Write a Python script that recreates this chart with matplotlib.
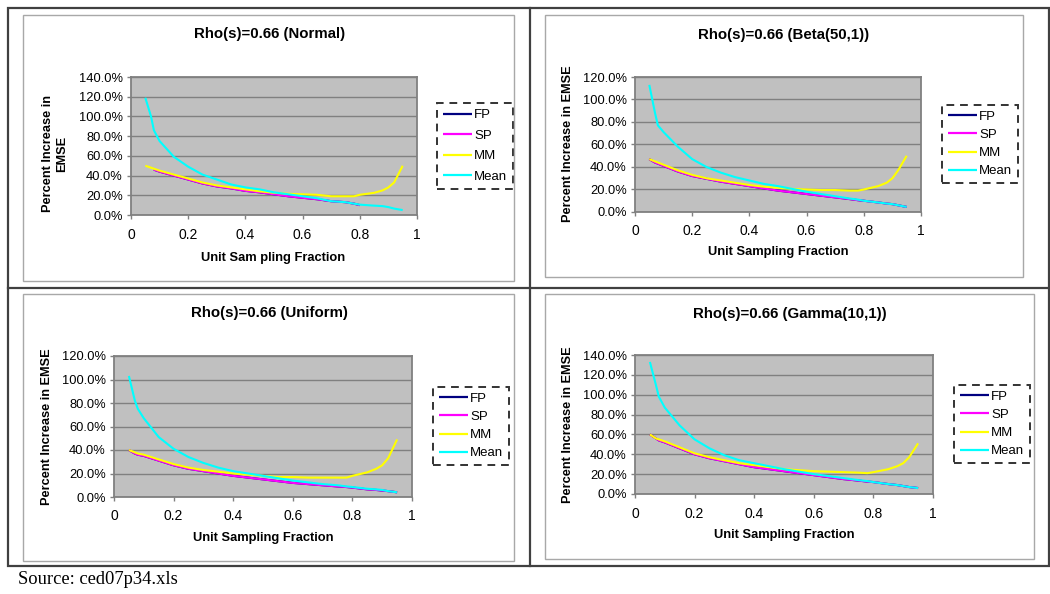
import matplotlib
matplotlib.use("Agg")
import matplotlib.pyplot as plt
from matplotlib.patches import Rectangle
from matplotlib.lines import Line2D
from matplotlib.ticker import FuncFormatter
import numpy as np

plt.rcParams['font.family'] = ['Liberation Sans', 'DejaVu Sans']

nan = np.nan

# unit sampling fraction
x = [0.05, 0.07, 0.08, 0.1, 0.15, 0.2, 0.25, 0.3, 0.35, 0.4, 0.45, 0.5,
     0.55, 0.6, 0.65, 0.7, 0.75, 0.78, 0.8, 0.85, 0.88, 0.9, 0.92, 0.95]

series_names = ['FP', 'SP', 'MM', 'Mean']
titles = ['Rho(s)=0.66 (Normal)', 'Rho(s)=0.66 (Beta(50,1))',
          'Rho(s)=0.66 (Uniform)', 'Rho(s)=0.66 (Gamma(10,1))']
xlabels = ['Unit Sam pling Fraction', 'Unit Sampling Fraction',
           'Unit Sampling Fraction', 'Unit Sampling Fraction']
ylabels = ['Percent Increase in\nEMSE', 'Percent Increase in EMSE',
           'Percent Increase in EMSE', 'Percent Increase in EMSE']
ymax = [140, 120, 120, 140]

# percent increase in EMSE, Normal
normal_fp = [nan, nan, 46, 44, 40, 36, 32, 29, 27, 24.5, 23, 21,
             19, 17.5, 16, 14, 13, 11.5, 10, nan, nan, nan, nan, nan]
normal_sp = [nan, nan, 46, 44, 40, 36, 32, 29, 27, 24.5, 23, 21,
             19, 17.5, 16, 14, 13, 11.5, 10, nan, nan, nan, nan, nan]
normal_mm = [50, 48, 47, 45, 41, 37, 33, 30, 28, 26, 24, 22.5,
             21.5, 21, 20.5, 19, 19, 19, 20.5, 22.5, 25, 28, 33, 50]
normal_mean = [119, 100, 86, 75, 59, 49, 41, 36, 31, 28, 26, 23,
               21, 19, 17, 14, 13, 11.5, 10.5, 9.5, 9, 8, 6.5, 5]

# Beta(50,1)
beta_fp = [47, 44, 43, 41, 36, 32, 29.5, 27, 25, 23, 21, 19,
           17.5, 16, 14.5, 13, 11.5, 10.5, 10, 8.5, 7.5, 7, 6, 4.5]
beta_sp = [47, 44, 43, 41, 36, 32, 29.5, 27, 25, 23, 21, 19,
           17.5, 16, 14.5, 13, 11.5, 10.5, 10, 8.5, 7.5, 7, 6, 4.5]
beta_mm = [47, 45, 44, 42, 37, 33, 30, 28, 26, 24, 22.5, 21.5,
           20.5, 20, 19.5, 19.5, 19, 19, 20, 23, 26, 30, 37, 50]
beta_mean = [113, 88, 77, 71, 58, 47, 40, 35, 31, 28, 25, 23,
             20.5, 18, 16, 14, 12, 11, 10, 8.5, 7.5, 7, 6, 4.5]

# Uniform
unif_fp = [40, 37, 36, 35, 31, 27, 24, 22, 20, 18, 16.5, 15,
           13.5, 12, 11, 10, 9, 8.5, 8, 6.5, 6, 5.5, 5, 4]
unif_sp = [40, 37, 36, 35, 31, 27, 24, 22, 20, 18, 16.5, 15,
           13.5, 12, 11, 10, 9, 8.5, 8, 6.5, 6, 5.5, 5, 4]
unif_mm = [40, 38, 37, 36, 32, 28, 25, 23, 21.5, 20, 19, 18,
           17, 17, 16.5, 16.5, 16.5, 16.5, 18, 21, 24, 27, 33, 49]
unif_mean = [103, 82, 75, 67, 51, 41, 34, 29, 25, 22, 20, 18,
             16, 14, 12.5, 11, 10, 9, 8.5, 7, 6.5, 6, 5, 4]

# Gamma(10,1)
gamma_fp = [60, 56, 54, 52, 46, 40, 36, 33, 30, 27, 25, 23,
            21, 19, 17, 15, 13.5, 12.5, 12, 10, 9, 8, 7, 6]
gamma_sp = [60, 56, 54, 52, 46, 40, 36, 33, 30, 27, 25, 23,
            21, 19, 17, 15, 13.5, 12.5, 12, 10, 9, 8, 7, 6]
gamma_mm = [60, 56, 55, 53, 47, 41, 37, 34, 31, 29, 27, 25,
            24, 23, 22.5, 22, 21.5, 21, 22, 25, 28, 31, 37, 51]
gamma_mean = [133, 110, 98, 87, 69, 55, 46, 39, 34, 31, 28, 25,
              22.5, 20, 18, 16, 14, 13, 12, 10, 9, 8, 7, 6]

panel_data = [
    [normal_fp, normal_sp, normal_mm, normal_mean],
    [beta_fp, beta_sp, beta_mm, beta_mean],
    [unif_fp, unif_sp, unif_mm, unif_mean],
    [gamma_fp, gamma_sp, gamma_mm, gamma_mean],
]
colors = ['#000080', '#FF00FF', '#FFFF00', '#00FFFF']

W, H = 1050, 594
fig = plt.figure(figsize=(W / 100, H / 100), dpi=100)


def fx(px):
    return px / W


def fy(py):
    return 1 - py / H


# layout in pixels
plot_boxes = [(131, 77, 417, 215), (635, 77, 921, 212),
              (114, 356, 412, 497), (635, 355, 933, 494)]
inner_boxes = [(23, 15, 514, 281), (545, 15, 1023, 277),
               (23, 294, 514, 561), (545, 294, 1034, 559)]
title_pos = [(270, 34), (784, 35), (269, 313), (790, 314)]
ylabel_pos = [(55, 154), (568, 144), (47, 427), (568, 425)]
xlabel_pos = [(273, 258), (778, 252), (263, 538), (784, 535)]
legend_pos = [(475, 146), (980, 144), (471, 426), (992, 424)]
legend_space = [0.62, 0.45, 0.45, 0.45]

# table frame
frame_kw = dict(color='#404040', lw=1.6, transform=fig.transFigure)
fig.add_artist(Rectangle((fx(8), fy(566)), fx(1049) - fx(8), fy(8) - fy(566),
                         fill=False, ec='#404040', lw=1.6, transform=fig.transFigure))
fig.add_artist(Line2D([fx(8), fx(1049)], [fy(288), fy(288)], **frame_kw))
fig.add_artist(Line2D([fx(530), fx(530)], [fy(8), fy(566)], **frame_kw))

for i in range(4):
    l, t, r, b = inner_boxes[i]
    fig.add_artist(Rectangle((fx(l), fy(b)), fx(r) - fx(l), fy(t) - fy(b),
                             fill=False, ec='#A8A8A8', lw=1.0,
                             transform=fig.transFigure))

    l, t, r, b = plot_boxes[i]
    ax = fig.add_axes([fx(l), fy(b), fx(r) - fx(l), fy(t) - fy(b)])
    ax.set_facecolor('#C0C0C0')
    for k, name in enumerate(series_names):
        ax.plot(x, panel_data[i][k], color=colors[k], lw=1.5, label=name,
                solid_capstyle='butt')
    ax.set_xlim(0, 1)
    ax.set_ylim(0, ymax[i])
    ax.set_xticks([0, 0.2, 0.4, 0.6, 0.8, 1])
    ax.set_yticks(np.arange(0, ymax[i] + 1, 20))
    ax.xaxis.set_major_formatter(FuncFormatter(lambda v, p: '%g' % v))
    ax.yaxis.set_major_formatter(FuncFormatter(lambda v, p: '%.1f%%' % v))
    ax.grid(axis='y', color='#808080', lw=1.0)
    ax.set_axisbelow(True)
    for s in ax.spines.values():
        s.set_color('#808080')
        s.set_linewidth(1.3)
    ax.tick_params(axis='y', labelsize=9.3, color='#808080', length=3,
                   width=1, direction='out', pad=3)
    ax.tick_params(axis='x', labelsize=10, color='#808080', length=3,
                   width=1, direction='out', pad=6)

    fig.text(fx(title_pos[i][0]), fy(title_pos[i][1]), titles[i],
             ha='center', va='center', fontsize=10.8, fontweight='bold')
    fig.text(fx(ylabel_pos[i][0]), fy(ylabel_pos[i][1]), ylabels[i],
             ha='center', va='center', rotation=90, fontsize=9.2,
             fontweight='bold', multialignment='center')
    fig.text(fx(xlabel_pos[i][0]), fy(xlabel_pos[i][1]), xlabels[i],
             ha='center', va='center', fontsize=9.3, fontweight='bold')

    leg = ax.legend(loc='center', bbox_to_anchor=(fx(legend_pos[i][0]), fy(legend_pos[i][1])),
                    bbox_transform=fig.transFigure, fontsize=9.5, frameon=True,
                    fancybox=False, handlelength=2.2, handletextpad=0.2,
                    labelspacing=legend_space[i], borderpad=0.45, borderaxespad=0)
    fr = leg.get_frame()
    fr.set_edgecolor('black')
    fr.set_linestyle((0, (4, 3)))
    fr.set_linewidth(1.4)
    fr.set_facecolor('white')
    for ln in leg.get_lines():
        ln.set_linewidth(1.6)

fig.text(fx(18), fy(579), 'Source: ced07p34.xls', ha='left', va='center',
         fontsize=13.3, family=['Liberation Serif', 'DejaVu Serif'])

fig.savefig('out.png', dpi=100)
